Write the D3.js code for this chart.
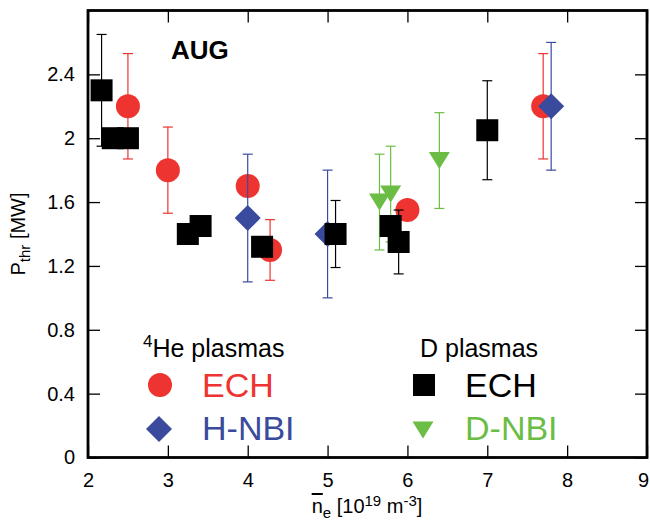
<!DOCTYPE html>
<html>
<head>
<meta charset="utf-8">
<script src="https://cdn.jsdelivr.net/npm/d3@7"></script>
<style>
  body { margin: 0; background: #fff; }
  svg text { font-family: "Liberation Sans", Arial, sans-serif; }
</style>
</head>
<body>
<svg id="fig" width="650" height="525"></svg>
<script>
// 4He plasmas, ECH (red circles)
const heEchX = [2.5, 3.0, 4.0, 4.28, 6.0, 7.7];
const heEchY = [2.2, 1.8, 1.7, 1.3, 1.55, 2.2];
const heEchErr = [0.33, 0.27, 0, 0.19, 0, 0.33];
// 4He plasmas, H-NBI (blue diamonds)
const hNbiX = [4.0, 5.0, 7.8];
const hNbiY = [1.5, 1.4, 2.2];
const hNbiErr = [0.4, 0.4, 0.4];
// D plasmas, D-NBI (green triangles)
const dNbiX = [5.65, 5.79, 6.4];
const dNbiY = [1.6, 1.65, 1.86];
const dNbiErr = [0.3, 0.3, 0.3];
// D plasmas, ECH (black squares)
const dEchX = [2.17, 2.31, 2.5, 3.25, 3.41, 4.18, 5.1, 5.79, 5.89, 7.0];
const dEchY = [2.3, 2.0, 2.0, 1.4, 1.45, 1.32, 1.4, 1.45, 1.35, 2.05];
const dEchErr = [0.35, 0, 0, 0, 0, 0, 0.21, 0, 0.2, 0.31];

const xTicks = [2, 3, 4, 5, 6, 7, 8, 9];
const yTicks = [0, 0.4, 0.8, 1.2, 1.6, 2, 2.4];

const red = "#ee3431", blue = "#3a4a9c", green = "#6bbd45", black = "#000";

const svg = d3.select("#fig");
const mLeft = 88, mRight = 647, mTop = 10.5, mBottom = 457.5;
const x = d3.scaleLinear().domain([2, 9]).range([mLeft, mRight]);
const y = d3.scaleLinear().domain([0, 2.8]).range([mBottom, mTop]);

// marker shapes
function circle(g) { g.append("circle").attr("r", 12); }
function square(g) { g.append("rect").attr("x", -11).attr("y", -11).attr("width", 22).attr("height", 22); }
function diamond(g) { g.append("path").attr("d", "M0,-13L13,0L0,13L-13,0Z"); }
function triangle(g) { g.append("path").attr("d", "M-10.5,-8.5L10.5,-8.5L0,8.5Z"); }

function series(X, Y, E, color, shape) {
  const g = svg.append("g");
  const idx = d3.range(X.length);
  const eb = g.selectAll(".eb").data(idx.filter(i => E[i] > 0)).enter().append("g")
    .attr("stroke", color).attr("stroke-width", 1.2);
  eb.append("line")
    .attr("x1", i => x(X[i])).attr("x2", i => x(X[i]))
    .attr("y1", i => y(Y[i] - E[i])).attr("y2", i => y(Y[i] + E[i]));
  eb.append("line")
    .attr("x1", i => x(X[i]) - 5).attr("x2", i => x(X[i]) + 5)
    .attr("y1", i => y(Y[i] + E[i])).attr("y2", i => y(Y[i] + E[i]));
  eb.append("line")
    .attr("x1", i => x(X[i]) - 5).attr("x2", i => x(X[i]) + 5)
    .attr("y1", i => y(Y[i] - E[i])).attr("y2", i => y(Y[i] - E[i]));
  g.selectAll(".m").data(idx).enter().append("g")
    .attr("transform", i => `translate(${x(X[i])},${y(Y[i])})`)
    .attr("fill", color)
    .each(function () { shape(d3.select(this)); });
}

series(heEchX, heEchY, heEchErr, red, circle);
series(hNbiX, hNbiY, hNbiErr, blue, diamond);
series(dNbiX, dNbiY, dNbiErr, green, triangle);
series(dEchX, dEchY, dEchErr, black, square);

// axes with inward ticks on all four sides
function styleAxis(a) {
  a.select(".domain").remove();
  a.selectAll(".tick line").attr("stroke", black).attr("stroke-width", 1.3);
  a.selectAll("text").attr("font-size", 20).attr("fill", black);
}
const xAxis = svg.append("g").attr("transform", `translate(0,${mBottom})`)
  .call(d3.axisBottom(x).tickValues(xTicks).tickSize(-12).tickPadding(15).tickFormat(d3.format("d")))
  .call(styleAxis);
xAxis.selectAll(".tick text").filter(d => d === 9).attr("dx", -4);
svg.append("g").attr("transform", `translate(0,${mTop})`)
  .call(d3.axisTop(x).tickValues(xTicks).tickSize(-12).tickFormat(""))
  .call(styleAxis);
svg.append("g").attr("transform", `translate(${mLeft},0)`)
  .call(d3.axisLeft(y).tickValues(yTicks).tickSize(-12).tickPadding(13).tickFormat(d => d))
  .call(styleAxis);
svg.append("g").attr("transform", `translate(${mRight},0)`)
  .call(d3.axisRight(y).tickValues(yTicks).tickSize(-12).tickFormat(""))
  .call(styleAxis);

svg.append("rect")
  .attr("x", mLeft).attr("y", mTop)
  .attr("width", mRight - mLeft).attr("height", mBottom - mTop)
  .attr("fill", "none").attr("stroke", black).attr("stroke-width", 2.8);

// axis labels
const xl = svg.append("text").attr("x", 367).attr("y", 513)
  .attr("text-anchor", "middle").attr("font-size", 20);
xl.append("tspan").text("n").attr("text-decoration", "overline");
xl.append("tspan").text("e").attr("font-size", 15).attr("dy", 5);
xl.append("tspan").text(" [10").attr("dy", -5);
xl.append("tspan").text("19").attr("font-size", 15).attr("dy", -7);
xl.append("tspan").text(" m").attr("dy", 7);
xl.append("tspan").text("-3").attr("font-size", 15).attr("dy", -7);
xl.append("tspan").text("]").attr("dy", 7);

const yl = svg.append("text").attr("transform", "translate(25,234) rotate(-90)")
  .attr("text-anchor", "middle").attr("font-size", 20);
yl.append("tspan").text("P");
yl.append("tspan").text("thr").attr("font-size", 15).attr("dy", 5);
yl.append("tspan").text(" [MW]").attr("dy", -5);

svg.append("text").attr("x", 171).attr("y", 59)
  .attr("font-size", 26).attr("font-weight", "bold").text("AUG");

// legend
const h1 = svg.append("text").attr("x", 143).attr("y", 357).attr("font-size", 25);
h1.append("tspan").text("4").attr("font-size", 17).attr("dy", -10);
h1.append("tspan").text("He plasmas").attr("dy", 10);
svg.append("text").attr("x", 420).attr("y", 357).attr("font-size", 25).text("D plasmas");

const legItems = [
  { cx: 160, cy: 385, tx: 202, ty: 397, label: "ECH", color: red, shape: circle },
  { cx: 159, cy: 429, tx: 202, ty: 440, label: "H-NBI", color: blue, shape: diamond },
  { cx: 424, cy: 385, tx: 465, ty: 397, label: "ECH", color: black, shape: square },
  { cx: 423, cy: 430, tx: 465, ty: 440, label: "D-NBI", color: green, shape: triangle }
];
legItems.forEach(d => {
  const g = svg.append("g").attr("transform", `translate(${d.cx},${d.cy})`).attr("fill", d.color);
  d.shape(g);
  svg.append("text").attr("x", d.tx).attr("y", d.ty).attr("font-size", 34)
    .attr("fill", d.color).text(d.label);
});
</script>
</body>
</html>
